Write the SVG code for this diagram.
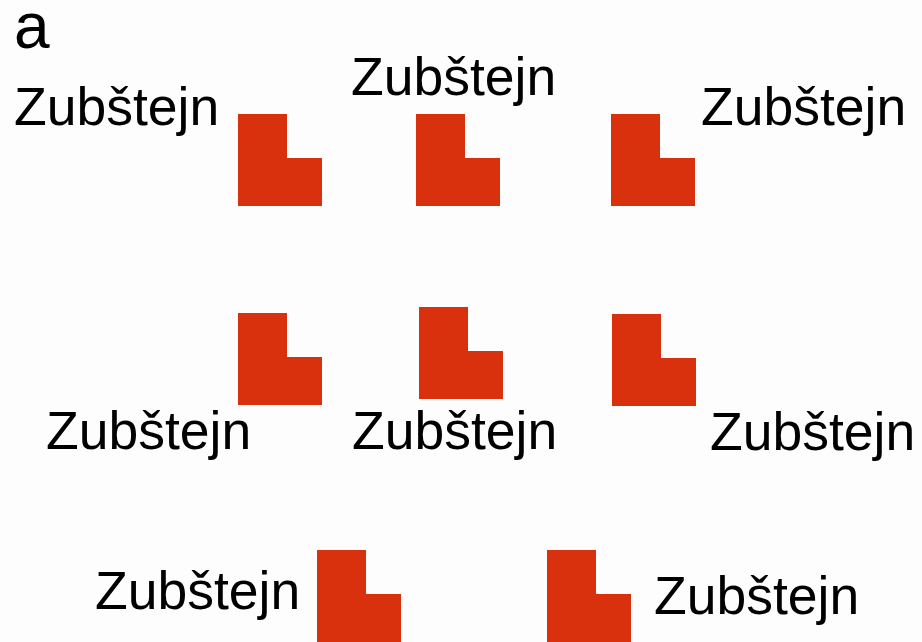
<svg xmlns="http://www.w3.org/2000/svg" width="922" height="642" viewBox="0 0 922 642">
<style>
.lbl{font-family:"Liberation Sans",Arial,sans-serif;font-size:53.5px;fill:#000}
.blk{fill:#d9300e}
</style>
<defs>
<path id="L" d="M0,0 H49 V44 H84 V92 H0 Z"/>
</defs>
<rect width="922" height="642" fill="#fdfdfd"/>
<text class="lbl" x="14" y="48" style="font-size:64px">a</text>
<g id="shape1"><use href="#L" class="blk" x="238" y="114"/></g>
<g id="shape2"><use href="#L" class="blk" x="416" y="114"/></g>
<g id="shape3"><use href="#L" class="blk" x="611" y="114"/></g>
<g id="shape4"><use href="#L" class="blk" x="238" y="313"/></g>
<g id="shape5"><use href="#L" class="blk" x="419" y="307"/></g>
<g id="shape6"><use href="#L" class="blk" x="612" y="314"/></g>
<g id="shape7"><use href="#L" class="blk" x="317" y="550"/></g>
<g id="shape8"><use href="#L" class="blk" x="547" y="550"/></g>
<g id="labels">
<text class="lbl" x="14" y="125">Zubštejn</text>
<text class="lbl" x="351" y="95">Zubštejn</text>
<text class="lbl" x="701" y="125">Zubštejn</text>
<text class="lbl" x="46" y="449">Zubštejn</text>
<text class="lbl" x="352" y="449">Zubštejn</text>
<text class="lbl" x="710" y="450">Zubštejn</text>
<text class="lbl" x="95" y="609">Zubštejn</text>
<text class="lbl" x="654" y="614">Zubštejn</text>
</g>
<g id="connectors"/>
</svg>
